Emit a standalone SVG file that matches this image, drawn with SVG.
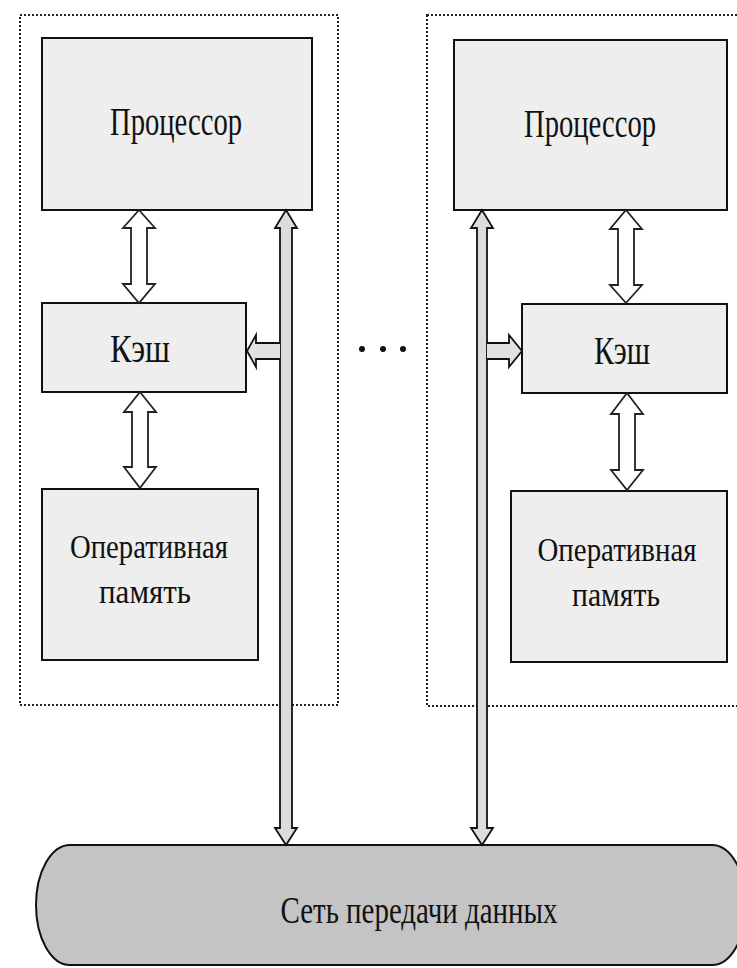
<svg xmlns="http://www.w3.org/2000/svg" width="737" height="968" viewBox="0 0 737 968">
<style>
.frame{fill:none;stroke:#222;stroke-width:2;stroke-dasharray:2 2}
.box{fill:#eeeeee;stroke:#111;stroke-width:2}
.net{fill:#c4c4c4;stroke:#111;stroke-width:2}
.t{font-family:"Liberation Serif","Times New Roman",serif;fill:#111;text-anchor:middle}
.dbl{fill:#ffffff;stroke:#222;stroke-width:1.8;stroke-linejoin:miter}
.bus{fill:#dcdcdc;stroke:#111;stroke-width:1.8}
.side{fill:#e2e2e2;stroke:#111;stroke-width:1.8}
</style>
<rect width="737" height="968" fill="#ffffff"/>
<g id="frames">
<rect class="frame" x="20" y="15" width="318" height="690"/>
<rect class="frame" x="427" y="15" width="330" height="691"/>
</g>
<g id="proc-left"><rect class="box" x="42" y="38" width="270" height="172"/><text class="t" x="176" y="135" font-size="39" textLength="132" lengthAdjust="spacingAndGlyphs">Процессор</text></g>
<g id="cache-left"><rect class="box" x="42" y="303" width="204" height="89"/><text class="t" x="140" y="362" font-size="39" textLength="60" lengthAdjust="spacingAndGlyphs">Кэш</text></g>
<g id="mem-left"><rect class="box" x="42" y="489" width="216" height="171"/><text class="t" x="149" y="558" font-size="34" textLength="158" lengthAdjust="spacingAndGlyphs">Оперативная</text><text class="t" x="145" y="603" font-size="34" textLength="92" lengthAdjust="spacingAndGlyphs">память</text></g>
<g id="proc-right"><rect class="box" x="454" y="40" width="273" height="170"/><text class="t" x="590" y="137" font-size="39" textLength="132" lengthAdjust="spacingAndGlyphs">Процессор</text></g>
<g id="cache-right"><rect class="box" x="522" y="304" width="205" height="89"/><text class="t" x="622" y="364" font-size="39" textLength="56" lengthAdjust="spacingAndGlyphs">Кэш</text></g>
<g id="mem-right"><rect class="box" x="511" y="491" width="216" height="171"/><text class="t" x="617" y="561" font-size="34" textLength="159" lengthAdjust="spacingAndGlyphs">Оперативная</text><text class="t" x="616" y="606" font-size="34" textLength="88" lengthAdjust="spacingAndGlyphs">память</text></g>
<g id="network"><path class="net" d="M70,845 H712 A34,60 0 0 1 712,965 H70 A34,60 0 0 1 70,845 Z"/><text class="t" x="419" y="923" font-size="38" textLength="277" lengthAdjust="spacingAndGlyphs">Сеть передачи данных</text></g>
<g id="ellipsis" fill="#111"><circle cx="362" cy="349" r="3"/><circle cx="383" cy="349" r="3"/><circle cx="403" cy="349" r="3"/></g>
<g id="connectors">
<path class="dbl" d="M139,210 L155,228 L147,228 L147,284 L155,284 L139,303 L123,284 L131,284 L131,228 L123,228 Z"/>
<path class="dbl" d="M140,392 L156,412 L148,412 L148,467 L156,467 L140,488 L124,467 L132,467 L132,412 L124,412 Z"/>
<path class="dbl" d="M626,210 L642,229 L634,229 L634,285 L642,285 L626,303 L610,285 L618,285 L618,229 L610,229 Z"/>
<path class="dbl" d="M627,393 L643,414 L635,414 L635,470 L643,470 L627,490 L611,470 L619,470 L619,414 L611,414 Z"/>
<path class="bus" d="M286,210 L297,228 L292,228 L292,828 L297,828 L286,845 L275,828 L280,828 L280,228 L275,228 Z"/>
<path class="bus" d="M482,210 L493,228 L487,228 L487,828 L493,828 L482,845 L471,828 L477,828 L477,228 L471,228 Z"/>
<path class="side" d="M280,343 L256,343 L256,335 L247,351 L256,367 L256,359 L280,359"/>
<path class="side" d="M487,343 L509,343 L509,335 L522,351 L509,367 L509,359 L487,359"/>
</g>
</svg>
